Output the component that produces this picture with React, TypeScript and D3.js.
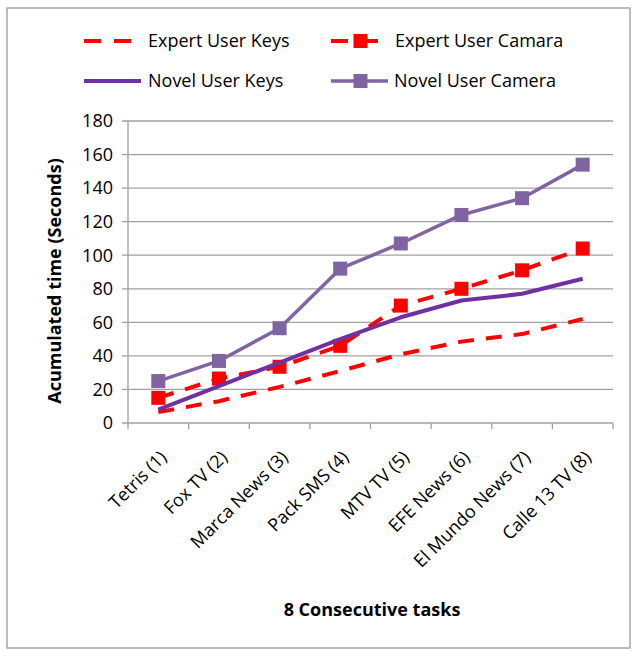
import React from "react";
import * as d3 from "d3";

const categories = [
  "Tetris (1)",
  "Fox TV (2)",
  "Marca News (3)",
  "Pack SMS (4)",
  "MTV TV (5)",
  "EFE News (6)",
  "El Mundo News (7)",
  "Calle 13 TV (8)",
];
const expertKeys = [6.5, 13, 21.5, 31, 41, 48.5, 53, 62];
const expertCamara = [15, 26.5, 33.5, 46, 70, 80, 91, 104];
const novelKeys = [8, 22, 36, 50, 63, 73, 77, 86];
const novelCamera = [25, 37, 56.5, 92, 107, 124, 134, 154];
const yTicks = [0, 20, 40, 60, 80, 100, 120, 140, 160, 180];

const RED = "#ff0000";
const PURPLE_DARK = "#7030a0";
const PURPLE = "#8064a2";
const FONT = "'Open Sans', sans-serif";

type Series = {
  name: string;
  values: number[];
  color: string;
  dash?: string;
  width: number;
  marker: boolean;
};

const series: Series[] = [
  { name: "Expert User Keys", values: expertKeys, color: RED, dash: "16 12", width: 4, marker: false },
  { name: "Expert User Camara", values: expertCamara, color: RED, dash: "16 12", width: 4, marker: true },
  { name: "Novel User Keys", values: novelKeys, color: PURPLE_DARK, width: 4, marker: false },
  { name: "Novel User Camera", values: novelCamera, color: PURPLE, width: 3.5, marker: true },
];

export default function App() {
  const W = 632;
  const H = 651;
  const x0 = 128;
  const x1 = 613;
  const yTop = 121;
  const yBot = 423;
  const x = d3.scaleBand<string>().domain(categories).range([x0, x1]);
  const y = d3.scaleLinear().domain([0, 180]).range([yBot, yTop]);
  const cx = (c: string) => (x(c) as number) + x.bandwidth() / 2;
  const line = d3
    .line<number>()
    .x((_, i) => cx(categories[i]))
    .y((d) => y(d));
  const ms = 14;

  const legendItems = [
    { s: series[0], lx: 84, ly: 41, tx: 148 },
    { s: series[1], lx: 331, ly: 41, tx: 395 },
    { s: series[2], lx: 84, ly: 81, tx: 148 },
    { s: series[3], lx: 331, ly: 81, tx: 394 },
  ];
  const sampleW = 57;

  const boundaries = [...categories.map((c) => x(c) as number), x1];

  return (
    <svg
      width={W}
      height={H}
      style={{ position: "absolute", left: 0, top: 0, background: "#fff" }}
      fontFamily={FONT}
    >
      <rect x={7} y={8} width={623} height={640} fill="#fff" stroke="#a6a6a6" strokeWidth={1.5} />

      {/* gridlines */}
      {yTicks.map((t) => (
        <line key={"g" + t} x1={x0 - 6} x2={x1} y1={y(t)} y2={y(t)} stroke="#a0a0a0" strokeWidth={1.3} />
      ))}
      {/* y axis */}
      <line x1={x0} x2={x0} y1={yTop} y2={yBot} stroke="#a0a0a0" strokeWidth={1.3} />
      {/* x axis ticks */}
      {boundaries.map((b, i) => (
        <line key={"xt" + i} x1={b} x2={b} y1={yBot} y2={yBot + 6} stroke="#a0a0a0" strokeWidth={1.3} />
      ))}

      {/* y tick labels */}
      {yTicks.map((t) => (
        <text key={"yl" + t} x={113} y={y(t)} dy="0.35em" textAnchor="end" fontSize={18} fill="#000">
          {t}
        </text>
      ))}

      {/* x tick labels */}
      {categories.map((c) => (
        <text
          key={"xl" + c}
          transform={`translate(${cx(c) + 5},${yBot + 31}) rotate(-45)`}
          textAnchor="end"
          dy="0.35em"
          fontSize={18}
          fill="#000"
        >
          {c}
        </text>
      ))}

      {/* series */}
      {series.map((s) => (
        <g key={s.name}>
          <path
            d={line(s.values) || ""}
            fill="none"
            stroke={s.color}
            strokeWidth={s.width}
            strokeDasharray={s.dash}
            strokeLinejoin="round"
          />
          {s.marker &&
            s.values.map((v, i) => (
              <rect
                key={i}
                x={cx(categories[i]) - ms / 2}
                y={y(v) - ms / 2}
                width={ms}
                height={ms}
                fill={s.color}
              />
            ))}
        </g>
      ))}

      {/* axis titles */}
      <text
        transform={`translate(61,281) rotate(-90)`}
        textAnchor="middle"
        fontSize={18}
        fontWeight="bold"
        fill="#000"
      >
        Acumulated time (Seconds)
      </text>
      <text x={372} y={616} textAnchor="middle" fontSize={18} fontWeight="bold" fill="#000">
        8 Consecutive tasks
      </text>

      {/* legend */}
      {legendItems.map(({ s, lx, ly, tx }) => (
        <g key={"lg" + s.name}>
          <line
            x1={lx}
            x2={lx + sampleW}
            y1={ly}
            y2={ly}
            stroke={s.color}
            strokeWidth={s.width}
            strokeDasharray={s.dash ? "17 13" : undefined}
          />
          {s.marker && (
            <rect x={lx + sampleW / 2 - 7 + 1} y={ly - 7} width={14} height={14} fill={s.color} />
          )}
          <text x={tx} y={ly} dy="0.35em" fontSize={18} fill="#000">
            {s.name}
          </text>
        </g>
      ))}
    </svg>
  );
}
